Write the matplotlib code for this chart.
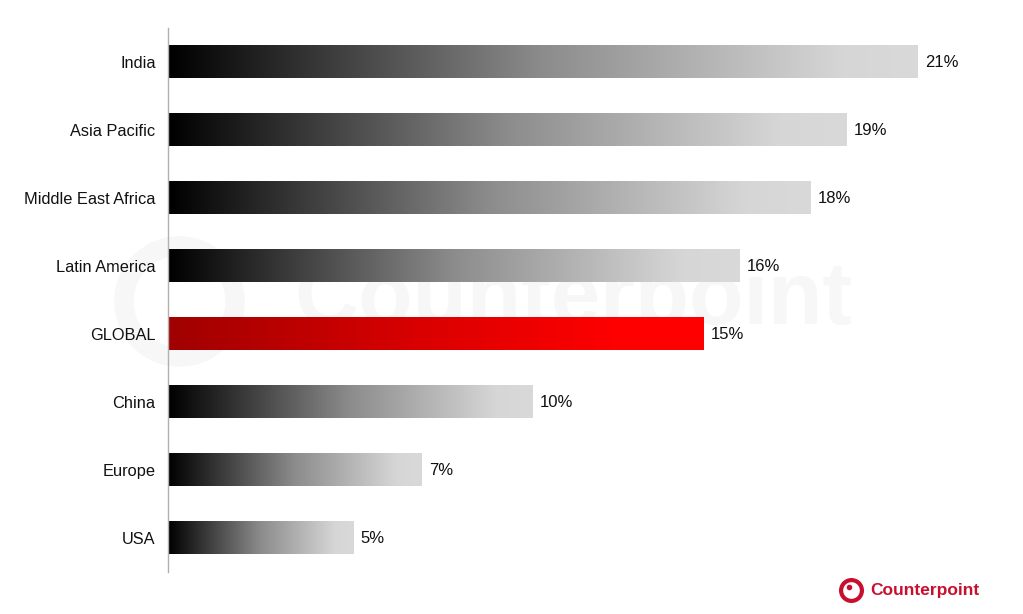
import numpy as np
import matplotlib
matplotlib.use("Agg")
from matplotlib import pyplot as plt
from matplotlib.lines import Line2D
from matplotlib.colors import LinearSegmentedColormap

regions = ["India", "Asia Pacific", "Middle East Africa", "Latin America",
           "GLOBAL", "China", "Europe", "USA"]
values = [21.0, 19.0, 18.0, 16.0, 15.0, 10.2, 7.1, 5.2]
labels = ["21%", "19%", "18%", "16%", "15%", "10%", "7%", "5%"]
highlight = "GLOBAL"

plt.rcParams['font.family'] = ['Liberation Sans', 'DejaVu Sans']

gray_cmap = LinearSegmentedColormap.from_list(
    "g", [(0, "#000000"), (0.5, "#8c8c8c"), (0.9, "#d6d6d6"), (1, "#d9d9d9")])
red_cmap = LinearSegmentedColormap.from_list(
    "r", [(0, "#a00000"), (0.5, "#dd0000"), (0.85, "#ff0000"), (1, "#ff0000")])

fig = plt.figure(figsize=(10.23, 6.14), dpi=100)

# faint watermark behind everything
fig.text(0.56, 0.51, "Counterpoint", fontsize=64, fontweight="bold",
         color="#f7f7f7", ha="center", va="center", zorder=-5)
fig.add_artist(Line2D([0.175], [0.51], marker="o", markersize=80,
                      markerfacecolor="none", markeredgecolor="#f7f7f7",
                      markeredgewidth=14, transform=fig.transFigure, zorder=-5))

ax = fig.add_axes([168/1023, 42/614, 857/1023, 544/614])

ypos = np.arange(len(regions))
h = 0.48
grad = np.linspace(0, 1, 256).reshape(1, -1)
for y, v, lab, name in zip(ypos, values, labels, regions):
    cmap = red_cmap if name == highlight else gray_cmap
    ax.imshow(grad, cmap=cmap, aspect="auto", extent=(0, v, y + h/2, y - h/2),
              zorder=2, interpolation="bilinear")
    ax.text(v + 0.2, y + 0.01, lab, va="center", ha="left", fontsize=12,
            color="#111111")

ax.set_xlim(0, 24)
ax.set_ylim(len(regions) - 0.5, -0.5)
ax.set_yticks(ypos)
ax.set_yticklabels(regions, fontsize=11.8, color="#111111")
ax.set_xticks([])
ax.tick_params(axis="y", length=0, pad=9)
for s in ["top", "right", "bottom"]:
    ax.spines[s].set_visible(False)
ax.spines["left"].set_color("#b0b0b0")
ax.spines["left"].set_linewidth(1)
ax.patch.set_alpha(0)

# logo bottom right
red = "#c8102e"
fig.add_artist(Line2D([851/1023], [1 - 590/614], marker="o", markersize=15,
                      markerfacecolor="none", markeredgecolor=red,
                      markeredgewidth=3, transform=fig.transFigure))
fig.add_artist(Line2D([849/1023], [1 - 587/614], marker="o", markersize=3,
                      color=red, transform=fig.transFigure))
fig.text(870/1023, 1 - 590/614, "Counterpoint", fontsize=12.5, fontweight="bold",
         color=red, ha="left", va="center")

fig.savefig("out.png", dpi=100)
